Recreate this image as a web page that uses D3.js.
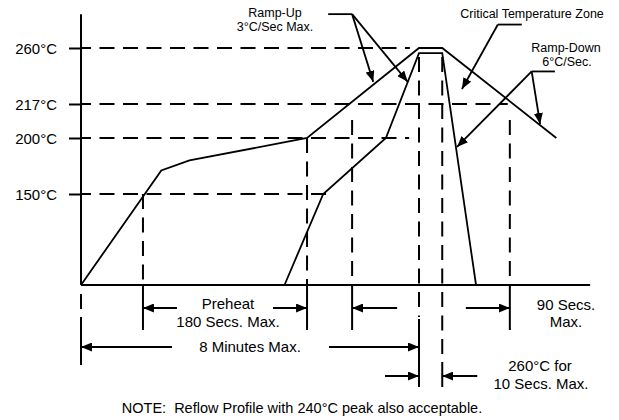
<!DOCTYPE html>
<html lang="en">
<head>
<meta charset="UTF-8">
<title>Reflow Profile</title>
<script src="https://d3js.org/d3.v7.min.js"></script>
<style>
  body { margin: 0; background: #fff; }
  svg { display: block; font-family: "Liberation Sans", Arial, sans-serif; }
  line, path.ln { fill: none; stroke: #000; }
  .solid { stroke-width: 2px; }
  .thin { stroke-width: 1.8px; }
  .dash { stroke-width: 2px; stroke-dasharray: 15 8.5; }
  text { fill: #000; }
</style>
</head>
<body>
<svg width="619" height="420"></svg>
<script>
// temperature levels marked on the axis (°C)
let tempTicks = [150, 200, 217, 260];
let tempLabels = ['150°C', '200°C', '217°C', '260°C'];

// outer profile (time s, temp °C)
let outerTime = [0, 114, 154, 321, 480, 513, 675];
let outerTemp = [25, 171, 180, 200, 260, 260, 200];
// inner profile
let innerTime = [289, 344, 433, 480, 513, 561];
let innerTemp = [25, 150, 200, 256, 256, 25];

// where each dashed temperature line stops (s), same order as tempTicks
let hGuideEnd = [358, 466, 606, 467];
// vertical dashed guides: time and the temperature they drop from
let vGuideTime = [88, 321, 385, 480, 513, 609];
let vGuideTop = [150, 200, 209, 253, 253, 209];

// dimension spans (s)
let spanFrom = [88, 385, 0, 480];
let spanTo = [321, 609, 480, 513];

// annotation leaders (s, °C)
let hookTime = [[351, 385], [592, 626], [640, 673]];
let hookTemp = [286, 278, 242];
let hookFrom = [385, 592, 640];
let leaderTips = [[[415, 234], [464, 234]], [[541, 228.5]], [[534, 192], [652, 207]]];

let axisEndTime = 723, axisTopTemp = 286, baseTemp = 25;

// ---- layout ----
let xScale = d3.scaleLinear().domain([0, 480]).range([81, 419]);
let yScale = d3.scaleLinear().domain([25, 150, 200, 217, 260]).range([285, 194, 138, 104, 48]);
let base = yScale(baseTemp);

let vDashEnd = [base, base, base, 317, 360, base];
let vSolid = [[base, 330], [base, 330], [base, 330], [319, 387], [362, 387], [base, 330]];
let spanRow = [308, 308, 347, 376];
let spanLen = [[34, 34], [45, 44], [91, 90], [34, 35]];
let spanInward = [false, false, false, true];

let svg = d3.select('svg');
svg.append('defs').append('marker')
    .attr('id', 'arr').attr('markerUnits', 'userSpaceOnUse')
    .attr('viewBox', '0 0 11 9').attr('refX', 11).attr('refY', 4.5)
    .attr('markerWidth', 11).attr('markerHeight', 9).attr('orient', 'auto')
    .append('path').attr('d', 'M0,0L11,4.5L0,9Z').attr('fill', '#000');

function seg(g, x1, y1, x2, y2, cls) {
    return g.append('line').attr('x1', x1).attr('y1', y1).attr('x2', x2).attr('y2', y2).attr('class', cls);
}

// horizontal dashed temperature lines
let gh = svg.append('g');
tempTicks.forEach(function (t, i) {
    seg(gh, xScale(0), yScale(t), xScale(hGuideEnd[i]), yScale(t), 'dash')
        .style('stroke-dashoffset', 5);
});

// vertical guides
let gv = svg.append('g');
vGuideTime.forEach(function (t, i) {
    let x = xScale(t);
    seg(gv, x, yScale(vGuideTop[i]), x, vDashEnd[i], 'dash');
    seg(gv, x, vSolid[i][0], x, vSolid[i][1], 'solid');
});
seg(gv, xScale(0), 294, xScale(0), 309, 'solid');
seg(gv, xScale(0), 317, xScale(0), 365, 'solid');

// axes
let yAxis = svg.append('g')
    .attr('transform', 'translate(' + xScale(0) + ',0)')
    .call(d3.axisLeft(yScale).tickValues(tempTicks)
        .tickFormat(function (d, i) { return tempLabels[i]; })
        .tickSize(12).tickPadding(12).tickSizeOuter(0));
yAxis.select('.domain').remove();
yAxis.selectAll('line').attr('stroke', '#000').attr('stroke-width', 2);
yAxis.selectAll('text').attr('font-size', 15).attr('font-family', '"Liberation Sans", Arial, sans-serif')
    .attr('dy', '0.36em').attr('fill', '#000');
seg(svg, xScale(0), yScale(axisTopTemp), xScale(0), base, 'solid');
seg(svg, xScale(0), base, xScale(axisEndTime), base, 'solid');

// profiles
let line = d3.line().x(function (d) { return xScale(d[0]); }).y(function (d) { return yScale(d[1]); });
svg.append('path').attr('class', 'ln thin').attr('d', line(d3.zip(outerTime, outerTemp)));
svg.append('path').attr('class', 'ln thin').attr('d', line(d3.zip(innerTime, innerTemp)));

// dimension arrows
let ga = svg.append('g');
spanFrom.forEach(function (f, i) {
    let x1 = xScale(f), x2 = xScale(spanTo[i]), y = spanRow[i], L = spanLen[i];
    if (spanInward[i]) {
        seg(ga, x1 - L[0], y, x1, y, 'thin').attr('marker-end', 'url(#arr)');
        seg(ga, x2 + L[1], y, x2, y, 'thin').attr('marker-end', 'url(#arr)');
    } else {
        seg(ga, x1 + L[0], y, x1, y, 'thin').attr('marker-end', 'url(#arr)');
        seg(ga, x2 - L[1], y, x2, y, 'thin').attr('marker-end', 'url(#arr)');
    }
});

// annotation leaders
let gl = svg.append('g');
hookTime.forEach(function (h, i) {
    let y = yScale(hookTemp[i]);
    seg(gl, xScale(h[0]), y, xScale(h[1]), y, 'thin');
    leaderTips[i].forEach(function (p) {
        seg(gl, xScale(hookFrom[i]), y, xScale(p[0]), yScale(p[1]), 'thin').attr('marker-end', 'url(#arr)');
    });
});

// labels
let labels = [
    ['Ramp-Up', 275, 17, 12.5], ['3°C/Sec Max.', 275, 31, 12.5],
    ['Critical Temperature Zone', 532, 18, 12.5],
    ['Ramp-Down', 566, 52, 12.5], ['6°C/Sec.', 567, 66, 12.5],
    ['Preheat', 228, 309, 15], ['180 Secs. Max.', 228, 327, 15],
    ['8 Minutes Max.', 250, 352, 15],
    ['90 Secs.', 566, 310, 15], ['Max.', 566, 327, 15],
    ['260°C for', 540, 371, 15], ['10 Secs. Max.', 541, 389, 15],
    ['NOTE:  Reflow Profile with 240°C peak also acceptable.', 302, 413, 14.5]
];
svg.append('g').selectAll('text').data(labels).join('text')
    .attr('x', function (d) { return d[1]; })
    .attr('y', function (d) { return d[2]; })
    .attr('font-size', function (d) { return d[3]; })
    .attr('text-anchor', 'middle')
    .style('white-space', 'pre')
    .text(function (d) { return d[0]; });
</script>
</body>
</html>
